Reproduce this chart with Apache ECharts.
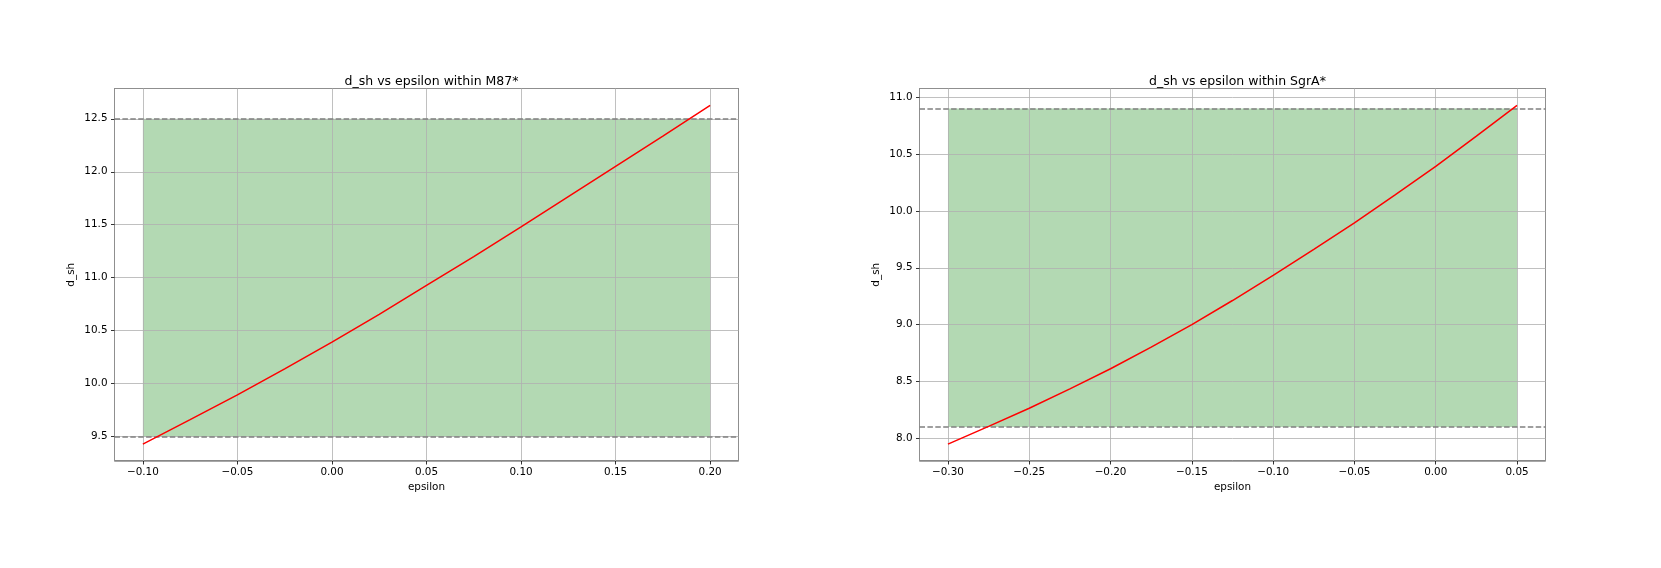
<!DOCTYPE html>
<html><head><meta charset="utf-8">
<script src="https://cdn.jsdelivr.net/npm/echarts@6/dist/echarts.min.js"></script>
<style>html,body{margin:0;padding:0;background:#fff}#c{width:1661px;height:568px}</style>
</head><body><div id="c"></div>
<script>
// ---- data ----
const m87Title = 'd_sh vs epsilon within M87*';
const m87Eps = [-0.100, -0.075, -0.050, -0.025, 0.000, 0.025, 0.050, 0.075, 0.100, 0.125, 0.150, 0.175, 0.200];
const m87Dsh = [9.430, 9.660, 9.894, 10.140, 10.392, 10.655, 10.927, 11.200, 11.480, 11.765, 12.050, 12.337, 12.626];
const m87Band = [9.5, 12.5];

const sgrTitle = 'd_sh vs epsilon within SgrA*';
const sgrEps = [-0.300, -0.275, -0.250, -0.225, -0.200, -0.175, -0.150, -0.125, -0.100, -0.075, -0.050, -0.025, 0.000, 0.025, 0.050];
const sgrDsh = [7.950, 8.105, 8.265, 8.435, 8.612, 8.802, 9.000, 9.212, 9.433, 9.662, 9.895, 10.140, 10.392, 10.658, 10.927];
const sgrBand = [8.1, 10.9];

const xTickStep = 0.05;
const yTickStep = 0.5;
const xName = 'epsilon';
const yName = 'd_sh';

// ---- helpers ----
const FONT = 'DejaVu Sans';
function padded(arr) {
  const lo = Math.min(...arr), hi = Math.max(...arr), p = (hi - lo) * 0.05;
  return [lo - p, hi + p];
}
function fmt(dec) {
  return v => (v < -1e-12 ? '\u2212' : '') + Math.abs(v).toFixed(dec);
}
const grids = [
  {left: 114.5, top: 88.5, width: 624, height: 372.5},
  {left: 919.5, top: 88.5, width: 626, height: 372.5}
];
const panels = [
  {title: m87Title, eps: m87Eps, dsh: m87Dsh, band: m87Band},
  {title: sgrTitle, eps: sgrEps, dsh: sgrDsh, band: sgrBand}
];

const option = {
  animation: false,
  backgroundColor: '#fff',
  title: panels.map((p, i) => ({
    text: p.title,
    left: grids[i].left + grids[i].width / 2,
    textAlign: 'center',
    top: 70,
    textStyle: {fontFamily: FONT, fontSize: 12.5, fontWeight: 'normal', color: '#000'}
  })),
  grid: grids.map(g => Object.assign({show: true, borderColor: '#111', borderWidth: 1, containLabel: false}, g)),
  xAxis: panels.map((p, i) => {
    const ext = padded(p.eps);
    return {
      type: 'value', gridIndex: i, min: ext[0], max: ext[1], z: 3,
      minInterval: xTickStep, maxInterval: xTickStep,
      name: xName, nameLocation: 'middle', nameGap: 21,
      nameTextStyle: {fontFamily: FONT, fontSize: 10.4, color: '#000'},
      axisLine: {show: false, onZero: false},
      axisTick: {show: true, length: 3.5, lineStyle: {color: '#000', width: 0.8}},
      axisLabel: {fontFamily: FONT, fontSize: 10.4, color: '#000', margin: 6,
        showMinLabel: false, showMaxLabel: false, formatter: fmt(2)},
      splitLine: {show: true, lineStyle: {color: '#b0b0b0', width: 0.8}}
    };
  }),
  yAxis: panels.map((p, i) => {
    const ext = padded(p.dsh);
    return {
      type: 'value', gridIndex: i, min: ext[0], max: ext[1], z: 3,
      minInterval: yTickStep, maxInterval: yTickStep,
      name: yName, nameLocation: 'middle', nameGap: 38,
      nameTextStyle: {fontFamily: FONT, fontSize: 10.4, color: '#000'},
      axisLine: {show: false, onZero: false},
      axisTick: {show: true, length: 3.5, lineStyle: {color: '#000', width: 0.8}},
      axisLabel: {fontFamily: FONT, fontSize: 10.4, color: '#000', margin: 7,
        showMinLabel: false, showMaxLabel: false, formatter: fmt(1)},
      splitLine: {show: true, lineStyle: {color: '#b0b0b0', width: 0.8}}
    };
  }),
  series: []
};

panels.forEach((p, i) => {
  // green band
  option.series.push({
    type: 'line', xAxisIndex: i, yAxisIndex: i, data: [], z: 1, silent: true,
    markArea: {
      silent: true,
      itemStyle: {color: '#b3d9b3'},
      data: [[{coord: [p.eps[0], p.band[0]]}, {coord: [p.eps[p.eps.length - 1], p.band[1]]}]]
    }
  });
  // dashed horizontal limits
  option.series.push({
    type: 'line', xAxisIndex: i, yAxisIndex: i, data: [], z: 4, silent: true,
    markLine: {
      silent: true, symbol: 'none', label: {show: false},
      lineStyle: {color: '#808080', width: 1.5, type: [5.5, 2.4]},
      data: p.band.map(v => ({yAxis: v}))
    }
  });
  // red curve
  option.series.push({
    type: 'line', xAxisIndex: i, yAxisIndex: i, z: 5,
    data: p.eps.map((e, k) => [e, p.dsh[k]]),
    showSymbol: false, smooth: false,
    lineStyle: {color: '#ff0000', width: 1.5}
  });
});

const chart = echarts.init(document.getElementById('c'), null, {renderer: 'canvas'});
chart.setOption(option);
</script>
</body></html>
